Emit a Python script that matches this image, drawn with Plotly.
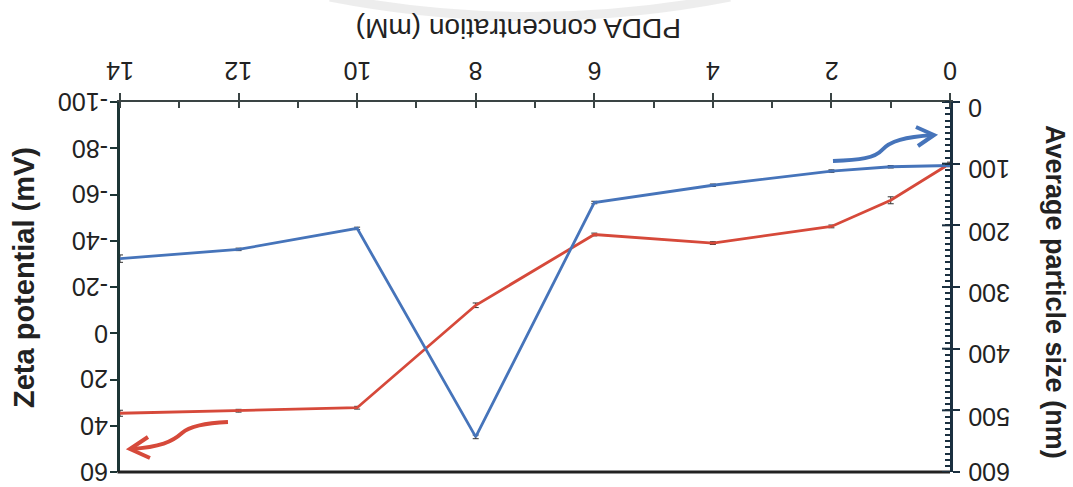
import plotly.graph_objects as go

# ---- data ----
pdda_mM = [0, 1, 2, 4, 6, 8, 10, 12, 14]
particle_size_nm = [103, 105, 112, 135, 163, 543, 205, 239, 254]
size_err = [2, 2, 2, 2, 2, 3, 2, 2, 6]
zeta_mV = [-73.4, -57.5, -46.2, -39.0, -42.7, -12.1, 32.2, 33.5, 34.6]
zeta_err = [0.6, 1.5, 0.6, 0.6, 0.6, 1.0, 0.6, 0.6, 1.3]

x_ticks = [0, 2, 4, 6, 8, 10, 12, 14]
zeta_ticks = [-100, -80, -60, -40, -20, 0, 20, 40, 60]
size_ticks = [0, 100, 200, 300, 400, 500, 600]

W, H = 1073, 487
ML, MR, MT, MB = 120, 123, 102, 15
PW, PH = W - ML - MR, H - MT - MB

BLUE = "#4674BA"
RED = "#D6493A"
FONT = "Liberation Sans, Arial, sans-serif"
TXT = "#222"


def px(x, y):
    return (x - ML) / PW, (H - MB - y) / PH


def path(cmds):
    out = []
    for c in cmds:
        if isinstance(c, str):
            out.append(c)
        else:
            a, b = px(*c)
            out.append(f"{a:.4f},{b:.4f}")
    return " ".join(out)


fig = go.Figure()

fig.add_trace(go.Scatter(
    x=pdda_mM, y=particle_size_nm, yaxis="y2", mode="lines",
    line=dict(color=BLUE, width=2.8),
    error_y=dict(type="data", array=size_err, color="#333", thickness=1, width=3),
    showlegend=False))

fig.add_trace(go.Scatter(
    x=pdda_mM, y=zeta_mV, yaxis="y", mode="lines",
    line=dict(color=RED, width=2.8),
    error_y=dict(type="data", array=zeta_err, color="#333", thickness=1, width=3),
    showlegend=False))

fig.update_layout(
    width=W, height=H,
    margin=dict(l=ML, r=MR, t=MT, b=MB),
    paper_bgcolor="white", plot_bgcolor="white",
    xaxis=dict(
        side="top", range=[14, 0], tickvals=x_ticks, showticklabels=False,
        showgrid=False, zeroline=False, automargin=False,
        showline=True, linecolor="#3a4444", linewidth=2,
        ticks="outside", ticklen=7, tickwidth=2, tickcolor="#3a4444",
        minor=dict(ticks="inside", dtick=1, ticklen=6, tickwidth=2, tickcolor="#3a4444"),
    ),
    xaxis2=dict(
        overlaying="x", side="top", range=[14, 0], tickvals=x_ticks,
        showticklabels=False, showgrid=False, zeroline=False, automargin=False,
        ticks="inside", ticklen=7, tickwidth=2, tickcolor="#3a4444",
    ),
    yaxis=dict(
        range=[60, -100], tickvals=zeta_ticks, showticklabels=False,
        showgrid=False, zeroline=False, automargin=False,
        showline=True, linecolor="#1d3535", linewidth=3,
        ticks="outside", ticklen=7, tickwidth=2, tickcolor="#1d3535",
    ),
    yaxis2=dict(
        overlaying="y", side="right", range=[600, 0], tickvals=size_ticks,
        showticklabels=False, showgrid=False, zeroline=False, automargin=False,
        showline=True, linecolor="#1b3040", linewidth=2.5,
        ticks="outside", ticklen=7, tickwidth=2, tickcolor="#1b3040",
        minor=dict(ticks="inside", dtick=10, ticklen=5, tickwidth=2, tickcolor="#1b3040"),
    ),
)

shapes = [
    dict(type="line", xref="paper", yref="paper", x0=-0.003, x1=1.0, y0=0, y1=0,
         line=dict(color="#222", width=3)),
    # faint watermark arc at the top
    dict(type="path", xref="paper", yref="paper", layer="below",
         path=path(["M", (330, -3), "Q", (530, 36), (730, -3)]),
         line=dict(color="rgba(215,215,215,0.45)", width=9)),
    # blue hand-drawn arrow
    dict(type="path", xref="paper", yref="paper",
         path=path(["M", (833, 161), "C", (860, 160), (875, 158), (882, 150),
                    "C", (890, 141), (905, 137), (933, 135)]),
         line=dict(color=BLUE, width=4)),
    dict(type="path", xref="paper", yref="paper",
         path=path(["M", (916, 127), "L", (934, 135), "L", (918, 146)]),
         line=dict(color=BLUE, width=4)),
    # red hand-drawn arrow
    dict(type="path", xref="paper", yref="paper",
         path=path(["M", (228, 422), "C", (205, 423), (190, 426), (182, 433),
                    "C", (172, 442), (160, 447), (131, 449)]),
         line=dict(color=RED, width=4)),
    dict(type="path", xref="paper", yref="paper",
         path=path(["M", (148, 437), "L", (130, 449), "L", (150, 458)]),
         line=dict(color=RED, width=4)),
]
for v in size_ticks:
    shapes.append(dict(type="line", xref="paper", yref="y2", x0=1.0, x1=1.0 - 8 / PW,
                       y0=v, y1=v, line=dict(color="#1b3040", width=2)))
fig.update_layout(shapes=shapes)

tick_font = dict(family=FONT, size=25, color=TXT)

# upside-down tick labels (the whole chart is shown rotated by 180 degrees)
_, ty = px(0, 71)
for v in x_ticks:
    fig.add_annotation(text=str(v), xref="x", yref="paper", x=v, y=ty,
                       showarrow=False, textangle=180, font=tick_font,
                       xanchor="center", yanchor="middle")
lx, _ = px(110, 0)
for v in zeta_ticks:
    fig.add_annotation(text=str(v), xref="paper", yref="y", x=lx, y=v,
                       showarrow=False, textangle=180, font=tick_font,
                       xanchor="right", yanchor="middle")
rx, _ = px(966, 0)
for v in size_ticks:
    fig.add_annotation(text=str(v), xref="paper", yref="y2", x=rx, y=v,
                       yshift=-6 if v < max(size_ticks) else 0,
                       showarrow=False, textangle=180, font=tick_font,
                       xanchor="left", yanchor="middle")

ax, ay = px(519, 29)
fig.add_annotation(text="PDDA concentration (mM)", xref="paper", yref="paper",
                   x=ax, y=ay, showarrow=False, textangle=180,
                   xanchor="center", yanchor="middle",
                   font=dict(family=FONT, size=28, color=TXT))
ax, ay = px(24, 278)
fig.add_annotation(text="<b>Zeta potential (mV)</b>", xref="paper", yref="paper",
                   x=ax, y=ay, showarrow=False, textangle=-90,
                   xanchor="center", yanchor="middle",
                   font=dict(family=FONT, size=29, color=TXT))
ax, ay = px(1055, 292)
fig.add_annotation(text="<b>Average particle size (nm)</b>", xref="paper", yref="paper",
                   x=ax, y=ay, showarrow=False, textangle=90,
                   xanchor="center", yanchor="middle",
                   font=dict(family=FONT, size=27, color=TXT))

fig.write_html("out.html", config={"displayModeBar": False},
               post_script="document.body.style.margin='0';")
